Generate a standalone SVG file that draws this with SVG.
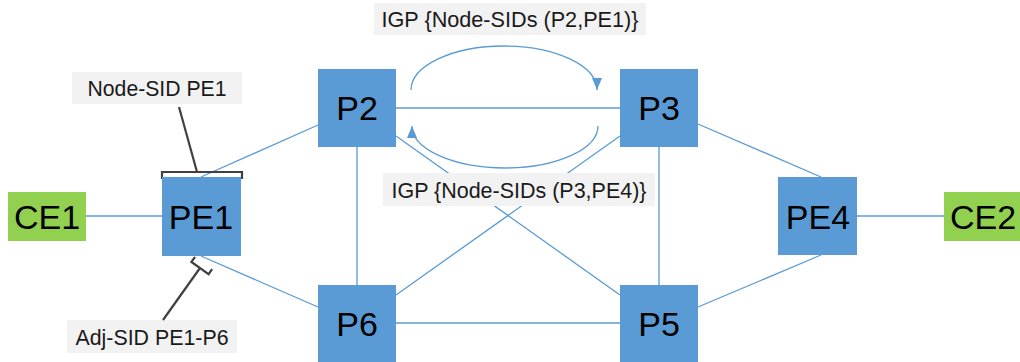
<svg xmlns="http://www.w3.org/2000/svg" width="1020" height="362" viewBox="0 0 1020 362">
  <style>
    .link { stroke: #5B9BD5; stroke-width: 1.3; fill: none; }
    .flow { stroke: #5B9BD5; stroke-width: 1.3; fill: none; marker-end: url(#arrow); }
    .router { fill: #5B9BD5; }
    .edge { fill: #92D050; }
    .name { font-family: "Liberation Sans", Arial, sans-serif; font-size: 34px; fill: #000; text-anchor: middle; }
    .tagbox { fill: #F2F2F2; }
    .tag { font-family: "Liberation Sans", Arial, sans-serif; font-size: 22.5px; fill: #1a1a1a; text-anchor: middle; }
    .callout { stroke: #404040; stroke-width: 2.2; fill: none; }
  </style>
  <defs>
    <marker id="arrow" viewBox="0 0 12 10" refX="12" refY="5" markerWidth="12" markerHeight="10" markerUnits="userSpaceOnUse" orient="auto">
      <path d="M0,0 L12,5 L0,10 Z" fill="#5B9BD5"/>
    </marker>
  </defs>
  <rect width="1020" height="362" fill="#FFFFFF"/>

  <!-- links between routers -->
  <g id="connectors">
    <line class="link" x1="86" y1="216" x2="162" y2="216"/>
    <line class="link" x1="201" y1="177" x2="318" y2="125"/>
    <line class="link" x1="201" y1="256" x2="318" y2="307"/>
    <line class="link" x1="396" y1="108" x2="620" y2="108"/>
    <line class="link" x1="357" y1="147" x2="357" y2="285"/>
    <line class="link" x1="659" y1="147" x2="659" y2="285"/>
    <line class="link" x1="396" y1="323" x2="620" y2="323"/>
    <line class="link" x1="396" y1="136" x2="620" y2="295"/>
    <line class="link" x1="620" y1="136" x2="396" y2="295"/>
    <line class="link" x1="698" y1="124" x2="821" y2="177"/>
    <line class="link" x1="698" y1="307" x2="821" y2="255"/>
    <line class="link" x1="857" y1="216" x2="944" y2="216"/>
    <!-- IGP advertisement loops between P2 and P3 -->
    <path class="flow" d="M411,90 A93,44 0 0 1 597,90"/>
    <path class="flow" d="M598,126 A93,42 0 0 1 412,126"/>
  </g>

  <!-- annotation labels -->
  <g id="label-igp-p2-pe1">
    <rect class="tagbox" x="374" y="3" width="272" height="32"/>
    <text class="tag" x="510" y="27" textLength="257" lengthAdjust="spacingAndGlyphs">IGP {Node-SIDs (P2,PE1)}</text>
  </g>
  <g id="label-igp-p3-pe4">
    <rect class="tagbox" x="383" y="173" width="272" height="33"/>
    <text class="tag" x="519" y="198" textLength="255" lengthAdjust="spacingAndGlyphs">IGP {Node-SIDs (P3,PE4)}</text>
  </g>
  <g id="label-node-sid">
    <rect class="tagbox" x="72" y="72" width="170" height="32"/>
    <text class="tag" x="157" y="96" textLength="139" lengthAdjust="spacingAndGlyphs">Node-SID PE1</text>
    <path class="callout" d="M179,107 L197,172"/>
    <path class="callout" d="M162,179 V172 H242 V179"/>
  </g>
  <g id="label-adj-sid">
    <rect class="tagbox" x="67" y="320" width="170" height="33"/>
    <text class="tag" x="152" y="345" textLength="153" lengthAdjust="spacingAndGlyphs">Adj-SID PE1-P6</text>
    <path class="callout" d="M163,320 L200,268"/>
    <path class="callout" d="M195,257 L191.4,261.9 L208.6,274.1 L212.1,269.2"/>
  </g>

  <!-- routers -->
  <g id="CE1">
    <rect class="edge" x="8" y="192" width="78" height="49"/>
    <text class="name" x="47" y="229">CE1</text>
  </g>
  <g id="PE1">
    <rect class="router" x="162" y="177" width="79" height="79"/>
    <text class="name" x="201" y="229">PE1</text>
  </g>
  <g id="P2">
    <rect class="router" x="318" y="69" width="78" height="78"/>
    <text class="name" x="357" y="120">P2</text>
  </g>
  <g id="P3">
    <rect class="router" x="620" y="69" width="78" height="78"/>
    <text class="name" x="659" y="120">P3</text>
  </g>
  <g id="P6">
    <rect class="router" x="318" y="285" width="78" height="78"/>
    <text class="name" x="357" y="336">P6</text>
  </g>
  <g id="P5">
    <rect class="router" x="620" y="285" width="78" height="78"/>
    <text class="name" x="659" y="336">P5</text>
  </g>
  <g id="PE4">
    <rect class="router" x="778" y="177" width="79" height="78"/>
    <text class="name" x="818" y="229">PE4</text>
  </g>
  <g id="CE2">
    <rect class="edge" x="944" y="192" width="78" height="49"/>
    <text class="name" x="983" y="229">CE2</text>
  </g>
</svg>
